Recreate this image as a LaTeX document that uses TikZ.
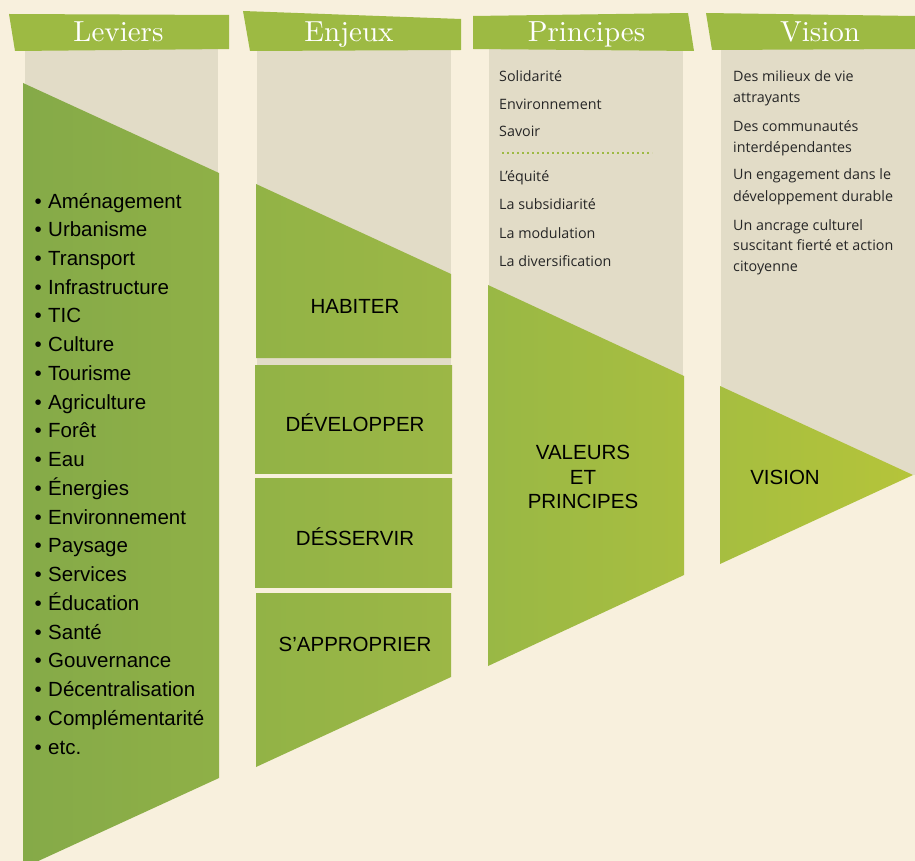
\documentclass[tikz,border=0pt]{standalone}
\usepackage{fontspec}
\newfontfamily\arialfont{Liberation Sans}
\newfontfamily\notefont{Open Sans}
\newfontfamily\headfont{lmroman10-regular}[Extension=.otf]

\definecolor{cream}{HTML}{F8F0DD}
\definecolor{panel}{HTML}{E2DCC7}
\definecolor{banner}{HTML}{9DBA43}
\definecolor{levA}{HTML}{85AA48}
\definecolor{levB}{HTML}{8FB047}
\definecolor{enjA}{HTML}{92B346}
\definecolor{enjB}{HTML}{9CB746}
\definecolor{priA}{HTML}{99B845}
\definecolor{priB}{HTML}{A8BE40}
\definecolor{visA}{HTML}{A6BE40}
\definecolor{visB}{HTML}{B5C43A}

\tikzset{
  headtext/.style={text=white, inner sep=0pt, anchor=base,
    font=\headfont\fontsize{29}{31}\selectfont},
  bigtext/.style={text=black, inner sep=0pt, anchor=base,
    font=\arialfont\fontsize{20.5}{24}\selectfont},
  listtext/.style={text=black, inner sep=0pt, anchor=base west,
    font=\arialfont\fontsize{20.5}{24}\selectfont},
  notetext/.style={text=black!85, inner sep=0pt, anchor=base west,
    font=\notefont\fontsize{14.3}{17}\selectfont},
}

\begin{document}
\begin{tikzpicture}[x=1pt,y=-1pt]
\useasboundingbox (0,0) rectangle (915,861);
\fill[cream] (0,0) rectangle (915,861);

% beige column backgrounds
\fill[panel] (25,49) rectangle (218,180);
\fill[panel] (257,49) rectangle (451,365);
\fill[panel] (489,49) rectangle (683,380);
\fill[panel] (721,49) rectangle (915,475);

% green funnel shapes
\shade[left color=levA, right color=levB]
  (23,83) -- (219,173) -- (219,778) -- (23,868) -- cycle;
\shade[left color=enjA, right color=enjB]
  (256,184) -- (451,274) -- (451,358) -- (256,358) -- cycle;
\shade[left color=enjA, right color=enjB] (255,365) rectangle (452,473);
\shade[left color=enjA, right color=enjB] (255,478) rectangle (452,587);
\shade[left color=enjA, right color=enjB]
  (256,593) -- (451,593) -- (451,677) -- (256,767) -- cycle;
\shade[left color=priA, right color=priB]
  (488,285) -- (684,376) -- (684,575) -- (488,666) -- cycle;
\shade[left color=visA, right color=visB]
  (720,386) -- (913,475) -- (720,564) -- cycle;

% header banners
\fill[banner] (9,14) -- (229,15) -- (229,49) -- (15,51) -- cycle;
\fill[banner] (243,11) -- (461,19) -- (461,50) -- (250,51) -- cycle;
\fill[banner] (473,16) -- (688,13) -- (694,51) -- (473,49) -- cycle;
\fill[banner] (706,13) -- (915,16) -- (915,49) -- (712,50) -- cycle;

\node[headtext] (hLev) at (118.5,41.7) {Leviers};
\node[headtext] (hEnj) at (349,41.7) {Enjeux};
\node[headtext] (hPri) at (586.5,41.7) {Principes};
\node[headtext] (hVis) at (820,41.7) {Vision};

% Leviers list
\foreach \t [count=\i from 0] in {Aménagement, Urbanisme, Transport,
  Infrastructure, TIC, Culture, Tourisme, Agriculture, Forêt, Eau,
  Énergies, Environnement, Paysage, Services, Éducation, Santé,
  Gouvernance, Décentralisation, Complémentarité, etc.}{
  \node[listtext] (bul\i) at (34.5,{208+28.74*\i}) {•};
  \node[listtext] (lev\i) at (48,{208+28.74*\i}) {\t};
}

% Enjeux labels
\node[bigtext] (habiter) at (355,313) {HABITER};
\node[bigtext] (developper) at (355,431) {DÉVELOPPER};
\node[bigtext] (desservir) at (355,545) {DÉSSERVIR};
\node[bigtext] (approprier) at (355,651) {S’APPROPRIER};

% Principes notes
\foreach \t/\y [count=\i] in {Solidarité/82, Environnement/109.5, Savoir/137,
  L’équité/182, La subsidiarité/210, La modulation/238,
  La diversification/266}{
  \node[notetext] (pri\i) at (499,\y) {\t};
}
\coordinate (dotA) at (502,153);
\coordinate (dotB) at (652,153);
\draw[banner, line width=2pt, dash pattern=on 2pt off 3pt] (dotA) -- (dotB);

% Vision notes
\foreach \t/\y [count=\i] in {Des milieux de vie/82, attrayants/103,
  Des communautés/132, interdépendantes/152.5,
  Un engagement dans le/180, développement durable/201,
  Un ancrage culturel/230, suscitant fierté et action/250.5,
  citoyenne/271}{
  \node[notetext] (vis\i) at (733,\y) {\t};
}

% Principes and Vision labels
\node[bigtext] (valeurs) at (583,459) {VALEURS};
\node[bigtext] (et) at (583,484) {ET};
\node[bigtext] (principes) at (583,508.5) {PRINCIPES};
\node[bigtext] (vision) at (785,484) {VISION};
\end{tikzpicture}
\end{document}
